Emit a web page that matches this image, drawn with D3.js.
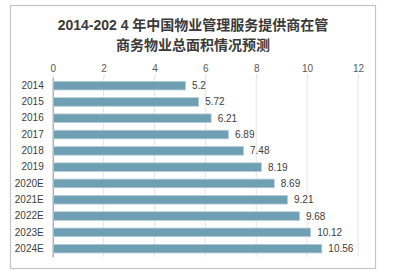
<!DOCTYPE html>
<html>
<head>
<meta charset="utf-8">
<script src="https://cdn.jsdelivr.net/npm/d3@7"></script>
<style>
  body { margin: 0; background: #fff; }
  svg { display: block; }
</style>
</head>
<body>
<script>
// Chart data
var years = ["2014", "2015", "2016", "2017", "2018", "2019", "2020E", "2021E", "2022E", "2023E", "2024E"];
var areas = [5.2, 5.72, 6.21, 6.89, 7.48, 8.19, 8.69, 9.21, 9.68, 10.12, 10.56];
var xTicks = [0, 2, 4, 6, 8, 10, 12];
var titleLines = ["2014-202 4 年中国物业管理服务提供商在管", "商务物业总面积情况预测"];

var width = 400, height = 276;
var plotLeft = 52.7, plotRight = 358, plotTop = 77.5, plotBottom = 256.8;
var fontFamily = "'Liberation Sans', Arial, 'Noto Sans CJK SC', sans-serif";

var svg = d3.select("body").append("svg")
  .attr("width", width)
  .attr("height", height);

// Outer frame
svg.append("rect")
  .attr("x", 10.5).attr("y", 5.5)
  .attr("width", 365).attr("height", 263)
  .attr("fill", "#fff")
  .attr("stroke", "#c4c4c4")
  .attr("stroke-width", 1.2);

// Title
svg.append("g").selectAll("text")
  .data(titleLines)
  .enter()
  .append("text")
  .attr("x", 193)
  .attr("y", function(d, i){ return 30 + i * 20; })
  .attr("text-anchor", "middle")
  .attr("font-family", "'Liberation Sans', 'Noto Sans CJK SC', sans-serif")
  .attr("font-weight", "bold")
  .attr("font-size", 14)
  .attr("fill", "#3a3a3a")
  .text(function(d){ return d; });

var x = d3.scaleLinear().domain([0, 12]).range([plotLeft, plotRight]);
var y = d3.scaleBand().domain(years).range([plotTop, plotBottom]).paddingInner(0.47).paddingOuter(0.235);

// Grid lines
svg.append("g").selectAll("line")
  .data(xTicks.slice(1))
  .enter()
  .append("line")
  .attr("x1", function(d){ return x(d); })
  .attr("x2", function(d){ return x(d); })
  .attr("y1", plotTop)
  .attr("y2", plotBottom)
  .attr("stroke", "#e6e6e6")
  .attr("stroke-width", 1);

// Top axis
var xAxis = svg.append("g")
  .attr("transform", "translate(0," + plotTop + ")")
  .call(d3.axisTop(x).tickValues(xTicks).tickSize(3).tickFormat(d3.format("d")));
xAxis.select(".domain").remove();
xAxis.selectAll("line").attr("stroke", "#d9d9d9");
xAxis.selectAll("text")
  .attr("y", -6)
  .attr("font-family", fontFamily)
  .attr("font-size", 10)
  .attr("fill", "#595959");

// Left axis
var yAxis = svg.append("g")
  .attr("transform", "translate(" + plotLeft + ",0)")
  .call(d3.axisLeft(y).tickSize(0).tickPadding(9));
yAxis.select(".domain").attr("stroke", "#8c8c8c").attr("stroke-width", 1);
yAxis.selectAll("text")
  .attr("font-family", fontFamily)
  .attr("font-size", 10)
  .attr("fill", "#404040");

// Bars
svg.append("g").selectAll("rect")
  .data(areas)
  .enter()
  .append("rect")
  .attr("x", x(0) + 0.5)
  .attr("y", function(d, i){ return y(years[i]); })
  .attr("width", function(d){ return x(d) - x(0); })
  .attr("height", y.bandwidth())
  .attr("fill", "#6f9fb3")
  .attr("stroke", "#b9d0da")
  .attr("stroke-width", 0.8);

// Value labels
svg.append("g").selectAll("text")
  .data(areas)
  .enter()
  .append("text")
  .attr("x", function(d){ return x(d) + 7; })
  .attr("y", function(d, i){ return y(years[i]) + y.bandwidth() / 2; })
  .attr("dy", "0.35em")
  .attr("font-family", fontFamily)
  .attr("font-size", 10)
  .attr("fill", "#404040")
  .text(function(d){ return d; });
</script>
</body>
</html>
